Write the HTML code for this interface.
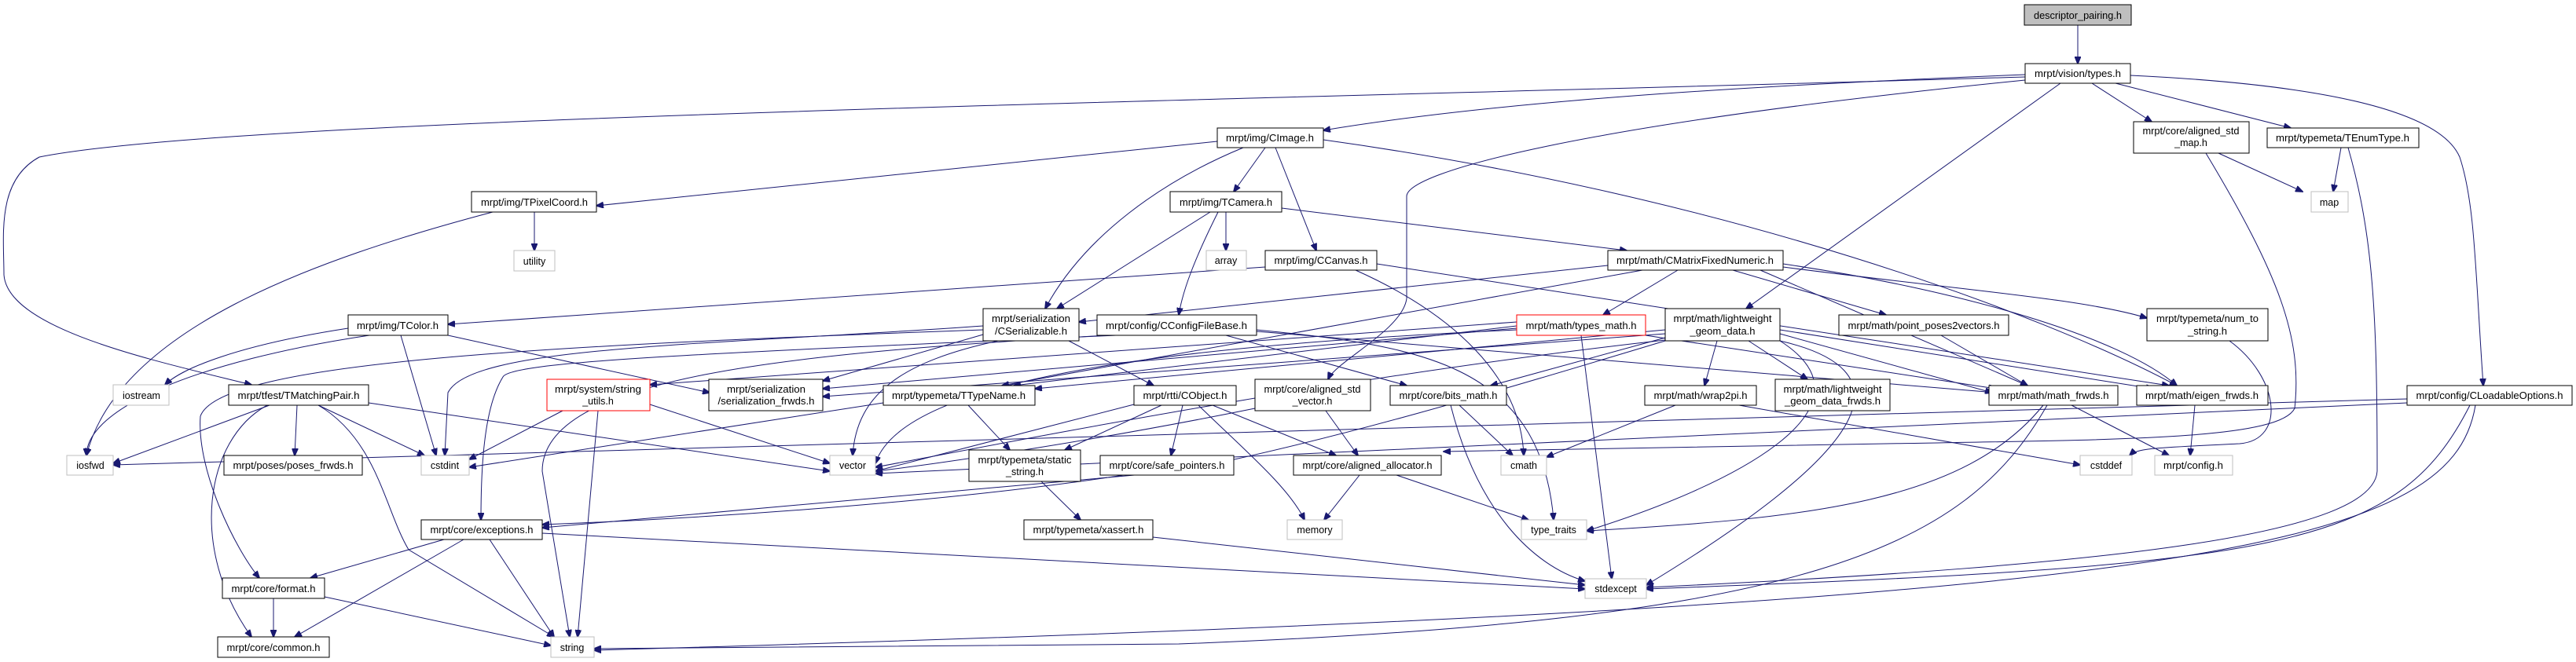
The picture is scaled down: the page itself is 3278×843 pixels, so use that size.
<!DOCTYPE html>
<html><head><meta charset="utf-8"><style>
html,body{margin:0;padding:0;background:#fff;}
svg{display:block;}
text{font-family:"Liberation Sans",Arial,sans-serif;font-size:12.5px;fill:#000;text-anchor:middle;}
.n{fill:#fff;stroke:#000;stroke-width:1;}
.g{fill:#fff;stroke:#bfbfbf;stroke-width:1;}
.r{fill:#fff;stroke:#ff0000;stroke-width:1;}
.e{fill:none;stroke:#191970;stroke-width:1;marker-end:url(#a);}
</style></head><body>
<svg width="3278" height="843" viewBox="0 0 3278 843" xmlns="http://www.w3.org/2000/svg">
<defs><marker id="a" markerWidth="10" markerHeight="8" refX="9" refY="4" orient="auto" markerUnits="userSpaceOnUse"><path d="M0,0 L10,4 L0,8 z" fill="#191970" stroke="#191970"/></marker></defs>
<g>
<path class="e" d="M2644 32 L2644 81"/>
<path class="e" d="M2577 95 C2200 110 1900 130 1684 166"/>
<path class="e" d="M2662 106 L2738 155"/>
<path class="e" d="M2692 106 L2915 163"/>
<path class="e" d="M2711 96 C2900 105 3100 130 3130 200 C3150 260 3150 350 3160 491"/>
<path class="e" d="M2577 98 C1500 130 300 150 50 200 C-5 230 5 300 5 350 C10 420 200 460 320 490"/>
<path class="e" d="M2577 102 C2000 160 1790 220 1790 250 L1790 380 C1785 420 1700 460 1690 483"/>
<path class="e" d="M2622 106 L2222 393"/>
<path class="e" d="M2823 195 L2930 244"/>
<path class="e" d="M2807 195 C2900 350 2930 430 2920 520 C2900 560 2700 560 2400 565 L1837 575"/>
<path class="e" d="M2837 434 C2900 480 2910 560 2850 565 C2750 570 2720 570 2710 580"/>
<path class="e" d="M2979 188 L2969 244"/>
<path class="e" d="M2988 188 C3020 300 3025 400 3025 600 C3020 680 2700 720 2095 748"/>
<path class="e" d="M1549 180 L759 262"/>
<path class="e" d="M1610 188 L1570 244"/>
<path class="e" d="M1623 188 L1675 319"/>
<path class="e" d="M1582 188 C1480 230 1380 300 1330 393"/>
<path class="e" d="M1684 178 C2200 250 2600 400 2770 491"/>
<path class="e" d="M627 270 C400 330 150 420 110 580"/>
<path class="e" d="M680 270 L680 319"/>
<path class="e" d="M1560 270 L1560 319"/>
<path class="e" d="M1540 270 L1345 393"/>
<path class="e" d="M1550 270 C1520 330 1505 370 1500 401"/>
<path class="e" d="M1631 265 L2070 319"/>
<path class="e" d="M1610 340 L570 413"/>
<path class="e" d="M1725 344 C1850 400 1935 480 1939 580"/>
<path class="e" d="M1752 336 L2760 491"/>
<path class="e" d="M2046 338 L1373 410"/>
<path class="e" d="M2135 344 L2040 401"/>
<path class="e" d="M2240 344 L2580 491"/>
<path class="e" d="M2205 344 L2400 401"/>
<path class="e" d="M2269 340 C2500 370 2650 380 2732 405"/>
<path class="e" d="M2269 336 C2500 370 2700 430 2770 491"/>
<path class="e" d="M2090 344 L1275 491"/>
<path class="e" d="M443 418 C300 440 230 470 210 490"/>
<path class="e" d="M470 427 C250 460 110 520 110 580"/>
<path class="e" d="M510 427 L555 580"/>
<path class="e" d="M570 427 L903 500"/>
<path class="e" d="M1360 434 L1468 491"/>
<path class="e" d="M1251 426 L1047 485"/>
<path class="e" d="M1251 415 C900 440 600 440 570 500 L566 580"/>
<path class="e" d="M1410 427 C1000 450 690 480 690 600 L725 811"/>
<path class="e" d="M1599 420 C1800 440 1960 460 1977 662"/>
<path class="e" d="M1560 427 L1790 491"/>
<path class="e" d="M1599 422 L2540 500"/>
<path class="e" d="M1930 420 C1500 440 1150 480 1114 590"/>
<path class="e" d="M2012 427 L2051 737"/>
<path class="e" d="M1930 418 L1047 495"/>
<path class="e" d="M1930 415 L1290 491"/>
<path class="e" d="M1930 410 L827 490"/>
<path class="e" d="M2094 427 L2540 495"/>
<path class="e" d="M2119 430 L1897 491"/>
<path class="e" d="M2185 434 L2169 491"/>
<path class="e" d="M2225 434 L2300 483"/>
<path class="e" d="M2119 420 L1317 495"/>
<path class="e" d="M2119 433 C1700 480 1300 560 1114 595"/>
<path class="e" d="M2265 434 C2420 470 2400 560 2095 745"/>
<path class="e" d="M2265 425 L2535 500"/>
<path class="e" d="M2265 420 L2740 495"/>
<path class="e" d="M2265 434 C2400 520 2200 620 2019 676"/>
<path class="e" d="M2119 434 C1900 500 1700 560 1500 600 L690 672"/>
<path class="e" d="M2119 425 L1047 505"/>
<path class="e" d="M2470 427 L2580 491"/>
<path class="e" d="M716 523 L597 585"/>
<path class="e" d="M761 523 L735 811"/>
<path class="e" d="M827 515 L1056 590"/>
<path class="e" d="M343 516 L144 590"/>
<path class="e" d="M378 516 L375 580"/>
<path class="e" d="M405 516 L540 580"/>
<path class="e" d="M405 516 C480 560 490 650 520 700 L705 811"/>
<path class="e" d="M340 516 C260 560 240 700 320 811"/>
<path class="e" d="M469 513 L1056 600"/>
<path class="e" d="M1251 420 C700 440 280 460 255 530 C250 600 300 700 330 736"/>
<path class="e" d="M1232 516 L1285 573"/>
<path class="e" d="M1124 513 L597 595"/>
<path class="e" d="M1478 516 L1355 573"/>
<path class="e" d="M1505 516 L1490 580"/>
<path class="e" d="M1525 516 C1580 570 1640 620 1660 662"/>
<path class="e" d="M1543 516 L1700 580"/>
<path class="e" d="M1443 515 L1114 600"/>
<path class="e" d="M1597 520 C1400 560 1200 590 1114 600"/>
<path class="e" d="M1687 523 L1728 580"/>
<path class="e" d="M1857 516 L1925 580"/>
<path class="e" d="M1846 516 C1880 650 1950 720 2017 740"/>
<path class="e" d="M1777 605 L1945 662"/>
<path class="e" d="M1730 605 L1685 662"/>
<path class="e" d="M2132 516 L1968 582"/>
<path class="e" d="M2213 516 L2647 592"/>
<path class="e" d="M2636 516 L2760 580"/>
<path class="e" d="M2600 516 C2500 640 2300 660 2019 676"/>
<path class="e" d="M2605 516 C2500 700 2300 790 1500 820 L756 826"/>
<path class="e" d="M2793 516 L2787 580"/>
<path class="e" d="M3143 516 C3050 700 2900 720 2095 750"/>
<path class="e" d="M3150 516 C3120 700 2800 770 756 828"/>
<path class="e" d="M3063 513 L1114 603"/>
<path class="e" d="M3063 508 L144 592"/>
<path class="e" d="M1325 613 L1375 662"/>
<path class="e" d="M1430 605 C1200 640 900 660 690 668"/>
<path class="e" d="M565 687 L395 736"/>
<path class="e" d="M590 687 L375 811"/>
<path class="e" d="M623 687 L705 811"/>
<path class="e" d="M690 679 L2017 750"/>
<path class="e" d="M348 762 L348 811"/>
<path class="e" d="M413 760 L701 822"/>
<path class="e" d="M1467 684 L2017 745"/>
<path class="e" d="M1270 434 C1150 460 1090 500 1085 580"/>
<path class="e" d="M1420 427 C900 450 650 460 640 480 C615 520 612 600 612 662"/>
</g>
<g>
<rect x="2576" y="6" width="136" height="26" style="fill:#bfbfbf;stroke:#000"/><text x="2644" y="24" textLength="112" lengthAdjust="spacingAndGlyphs">descriptor_pairing.h</text>
<rect class="n" x="2577" y="81" width="134" height="25"/><text x="2644" y="98" textLength="110" lengthAdjust="spacingAndGlyphs">mrpt/vision/types.h</text>
<rect class="n" x="1549" y="163" width="135" height="25"/><text x="1616" y="180" textLength="112" lengthAdjust="spacingAndGlyphs">mrpt/img/CImage.h</text>
<rect class="n" x="2715" y="155" width="147" height="40"/><text x="2788" y="171" textLength="123" lengthAdjust="spacingAndGlyphs">mrpt/core/aligned_std</text><text x="2788" y="186">_map.h</text>
<rect class="n" x="2885" y="163" width="193" height="25"/><text x="2981" y="180" textLength="170" lengthAdjust="spacingAndGlyphs">mrpt/typemeta/TEnumType.h</text>
<rect class="g" x="2941" y="244" width="47" height="26"/><text x="2964" y="262">map</text>
<rect class="n" x="600" y="244" width="159" height="26"/><text x="680" y="262" textLength="136" lengthAdjust="spacingAndGlyphs">mrpt/img/TPixelCoord.h</text>
<rect class="g" x="654" y="319" width="52" height="26"/><text x="680" y="337">utility</text>
<rect class="n" x="1489" y="244" width="142" height="26"/><text x="1560" y="262" textLength="118" lengthAdjust="spacingAndGlyphs">mrpt/img/TCamera.h</text>
<rect class="g" x="1535" y="319" width="51" height="25"/><text x="1560" y="336">array</text>
<rect class="n" x="1610" y="319" width="142" height="25"/><text x="1681" y="336" textLength="119" lengthAdjust="spacingAndGlyphs">mrpt/img/CCanvas.h</text>
<rect class="n" x="2046" y="319" width="223" height="25"/><text x="2157" y="336" textLength="200" lengthAdjust="spacingAndGlyphs">mrpt/math/CMatrixFixedNumeric.h</text>
<rect class="n" x="443" y="401" width="127" height="26"/><text x="506" y="419" textLength="104" lengthAdjust="spacingAndGlyphs">mrpt/img/TColor.h</text>
<rect class="n" x="1251" y="393" width="122" height="41"/><text x="1312" y="410" textLength="100" lengthAdjust="spacingAndGlyphs">mrpt/serialization</text><text x="1312" y="426" textLength="92" lengthAdjust="spacingAndGlyphs">/CSerializable.h</text>
<rect class="n" x="1396" y="401" width="203" height="26"/><text x="1497" y="419" textLength="180" lengthAdjust="spacingAndGlyphs">mrpt/config/CConfigFileBase.h</text>
<rect class="r" x="1930" y="401" width="164" height="26"/><text x="2012" y="419" textLength="141" lengthAdjust="spacingAndGlyphs">mrpt/math/types_math.h</text>
<rect class="n" x="2119" y="393" width="146" height="41"/><text x="2192" y="410" textLength="125" lengthAdjust="spacingAndGlyphs">mrpt/math/lightweight</text><text x="2192" y="426" textLength="83" lengthAdjust="spacingAndGlyphs">_geom_data.h</text>
<rect class="n" x="2340" y="401" width="216" height="26"/><text x="2448" y="419" textLength="193" lengthAdjust="spacingAndGlyphs">mrpt/math/point_poses2vectors.h</text>
<rect class="n" x="2732" y="393" width="154" height="41"/><text x="2809" y="410" textLength="130" lengthAdjust="spacingAndGlyphs">mrpt/typemeta/num_to</text><text x="2809" y="426" textLength="50" lengthAdjust="spacingAndGlyphs">_string.h</text>
<rect class="g" x="144" y="490" width="71" height="26"/><text x="180" y="508">iostream</text>
<rect class="n" x="291" y="490" width="178" height="26"/><text x="380" y="508" textLength="155" lengthAdjust="spacingAndGlyphs">mrpt/tfest/TMatchingPair.h</text>
<rect class="r" x="696" y="483" width="131" height="40"/><text x="761" y="500" textLength="110" lengthAdjust="spacingAndGlyphs">mrpt/system/string</text><text x="761" y="515">_utils.h</text>
<rect class="n" x="902" y="483" width="145" height="40"/><text x="975" y="500" textLength="100" lengthAdjust="spacingAndGlyphs">mrpt/serialization</text><text x="975" y="515" textLength="123" lengthAdjust="spacingAndGlyphs">/serialization_frwds.h</text>
<rect class="n" x="1124" y="491" width="193" height="25"/><text x="1220" y="508" textLength="170" lengthAdjust="spacingAndGlyphs">mrpt/typemeta/TTypeName.h</text>
<rect class="n" x="1443" y="491" width="130" height="25"/><text x="1508" y="508" textLength="107" lengthAdjust="spacingAndGlyphs">mrpt/rtti/CObject.h</text>
<rect class="n" x="1597" y="483" width="147" height="40"/><text x="1670" y="500" textLength="123" lengthAdjust="spacingAndGlyphs">mrpt/core/aligned_std</text><text x="1670" y="515">_vector.h</text>
<rect class="n" x="1769" y="491" width="148" height="25"/><text x="1843" y="508" textLength="125" lengthAdjust="spacingAndGlyphs">mrpt/core/bits_math.h</text>
<rect class="n" x="2093" y="491" width="142" height="25"/><text x="2164" y="508" textLength="119" lengthAdjust="spacingAndGlyphs">mrpt/math/wrap2pi.h</text>
<rect class="n" x="2259" y="483" width="146" height="40"/><text x="2332" y="500" textLength="125" lengthAdjust="spacingAndGlyphs">mrpt/math/lightweight</text><text x="2332" y="515" textLength="122" lengthAdjust="spacingAndGlyphs">_geom_data_frwds.h</text>
<rect class="n" x="2531" y="491" width="164" height="25"/><text x="2613" y="508" textLength="141" lengthAdjust="spacingAndGlyphs">mrpt/math/math_frwds.h</text>
<rect class="n" x="2719" y="491" width="167" height="25"/><text x="2802" y="508" textLength="144" lengthAdjust="spacingAndGlyphs">mrpt/math/eigen_frwds.h</text>
<rect class="n" x="3063" y="491" width="210" height="25"/><text x="3168" y="508" textLength="187" lengthAdjust="spacingAndGlyphs">mrpt/config/CLoadableOptions.h</text>
<rect class="g" x="85" y="580" width="59" height="25"/><text x="115" y="597">iosfwd</text>
<rect class="n" x="285" y="580" width="176" height="25"/><text x="373" y="597" textLength="153" lengthAdjust="spacingAndGlyphs">mrpt/poses/poses_frwds.h</text>
<rect class="g" x="536" y="580" width="61" height="25"/><text x="566" y="597">cstdint</text>
<rect class="g" x="1056" y="580" width="58" height="25"/><text x="1085" y="597">vector</text>
<rect class="n" x="1233" y="573" width="142" height="40"/><text x="1304" y="590" textLength="119" lengthAdjust="spacingAndGlyphs">mrpt/typemeta/static</text><text x="1304" y="605">_string.h</text>
<rect class="n" x="1400" y="580" width="170" height="25"/><text x="1485" y="597" textLength="147" lengthAdjust="spacingAndGlyphs">mrpt/core/safe_pointers.h</text>
<rect class="n" x="1646" y="580" width="188" height="25"/><text x="1740" y="597" textLength="165" lengthAdjust="spacingAndGlyphs">mrpt/core/aligned_allocator.h</text>
<rect class="g" x="1910" y="580" width="58" height="25"/><text x="1939" y="597">cmath</text>
<rect class="g" x="2647" y="580" width="66" height="25"/><text x="2680" y="597">cstddef</text>
<rect class="g" x="2742" y="580" width="99" height="25"/><text x="2791" y="597" textLength="76" lengthAdjust="spacingAndGlyphs">mrpt/config.h</text>
<rect class="n" x="536" y="662" width="154" height="25"/><text x="613" y="679" textLength="131" lengthAdjust="spacingAndGlyphs">mrpt/core/exceptions.h</text>
<rect class="n" x="1303" y="662" width="164" height="25"/><text x="1385" y="679" textLength="141" lengthAdjust="spacingAndGlyphs">mrpt/typemeta/xassert.h</text>
<rect class="g" x="1638" y="662" width="70" height="25"/><text x="1673" y="679">memory</text>
<rect class="g" x="1936" y="662" width="83" height="25"/><text x="1977" y="679">type_traits</text>
<rect class="n" x="283" y="736" width="130" height="26"/><text x="348" y="754" textLength="107" lengthAdjust="spacingAndGlyphs">mrpt/core/format.h</text>
<rect class="g" x="2017" y="737" width="78" height="25"/><text x="2056" y="754">stdexcept</text>
<rect class="n" x="277" y="811" width="142" height="26"/><text x="348" y="829" textLength="119" lengthAdjust="spacingAndGlyphs">mrpt/core/common.h</text>
<rect class="g" x="701" y="811" width="55" height="26"/><text x="728" y="829">string</text>
</g>
</svg>
</body></html>
